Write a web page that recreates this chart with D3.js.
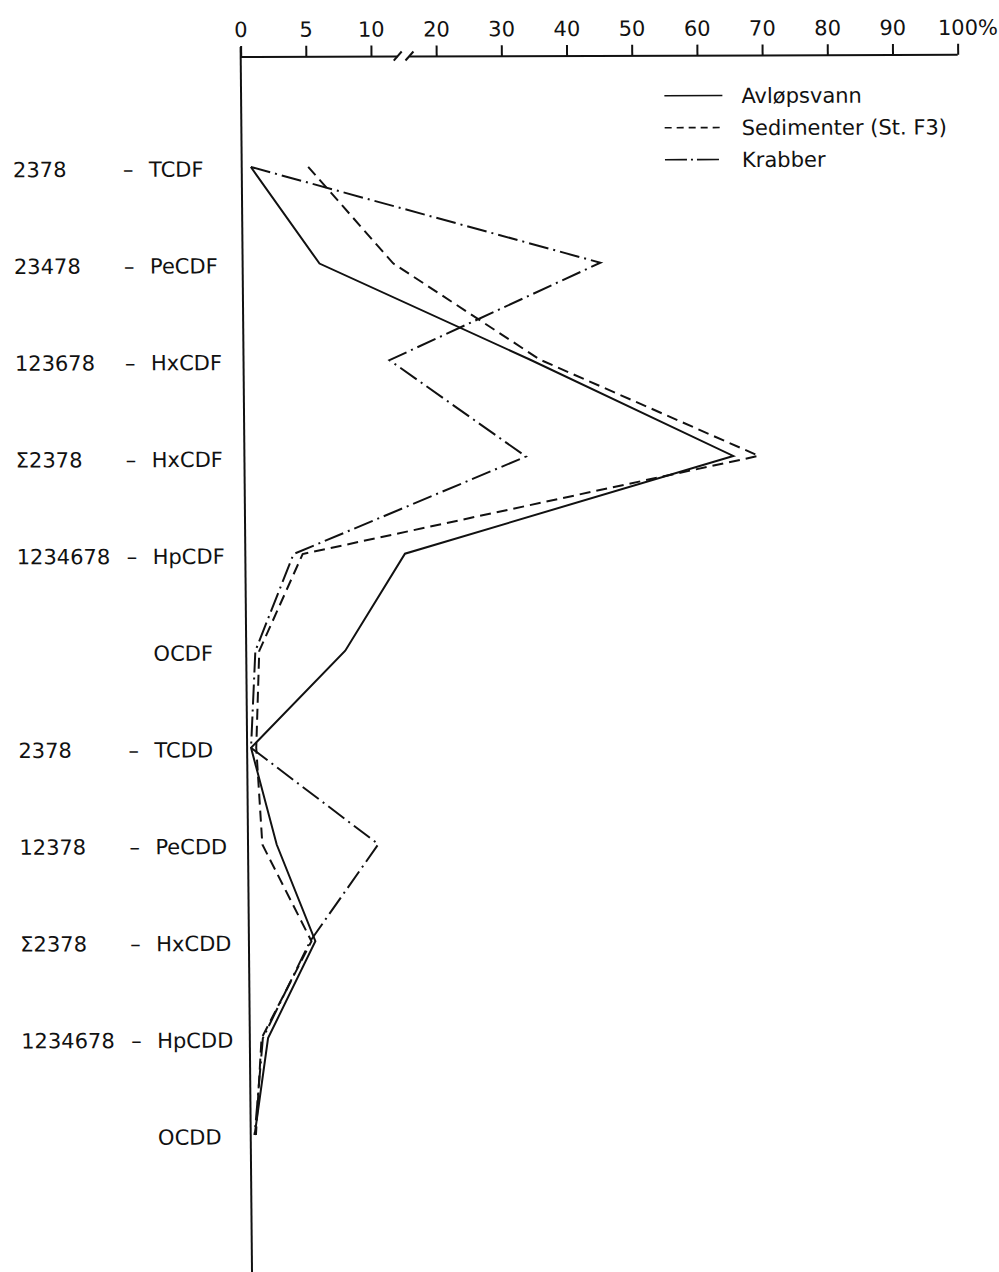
<!DOCTYPE html>
<html>
<head>
<meta charset="utf-8">
<script src="https://cdn.jsdelivr.net/npm/d3@7"></script>
<style>
  html, body { margin: 0; padding: 0; background: #fff; }
  svg { display: block; }
  text { font-family: "DejaVu Sans", "Liberation Sans", sans-serif; fill: #111; }
</style>
</head>
<body>
<div id="chart"></div>
<script>
// ---- data (percent of total) ----
const congenerNumbers = ["2378", "23478", "123678", "\u03A32378", "1234678", "", "2378", "12378", "\u03A32378", "1234678", ""];
const congenerNames   = ["TCDF", "PeCDF", "HxCDF", "HxCDF", "HpCDF", "OCDF", "TCDD", "PeCDD", "HxCDD", "HpCDD", "OCDD"];
const avlopsvann = [0.7, 5.9, 34.0, 65.0, 14.5, 7.6, 0.3, 2.2, 5.1, 1.4, 0.3];
const sedimenter = [5.1, 13.1, 35.5, 68.9, 4.4, 1.0, 0.7, 1.1, 4.8, 0.9, 0.4];
const krabber    = [0.7, 44.9, 12.4, 33.2, 3.7, 0.7, 0.3, 10.0, 4.7, 1.0, 0.3];
const tickValues = [0, 5, 10, 20, 30, 40, 50, 60, 70, 80, 90, 100];
const legendLabels = ["Avløpsvann", "Sedimenter (St. F3)", "Krabber"];

const W = 999, H = 1272;
const svg = d3.select("#chart").append("svg").attr("width", W).attr("height", H);
svg.append("rect").attr("width", W).attr("height", H).attr("fill", "#fff");

// slight scan skew of the original page
const kx = 0.0093, ky = -0.003;
const g = svg.append("g")
  .attr("transform", `matrix(1,${ky},${kx},1,${-kx * 57},${-ky * 240})`);

// broken scale: 0-10 stretched, 10-100 compressed
const x = d3.scaleLinear().domain([0, 10, 100]).range([240.7, 371, 957.7]);
const y = d3.scalePoint().domain(d3.range(congenerNames.length)).range([167, 1135]);
const axisY = 57;

// top axis
const axisG = g.append("g").attr("transform", `translate(0,${axisY})`)
  .call(d3.axisTop(x).tickValues(tickValues).tickSize(11).tickPadding(9)
    .tickFormat(d => String(d)));
axisG.select(".domain").remove();
axisG.selectAll(".tick line").attr("stroke", "#111").attr("stroke-width", 2);
axisG.selectAll(".tick text").attr("font-size", 21).attr("font-family", "DejaVu Sans, sans-serif").attr("fill", "#111");
// % sign after the 100 label
axisG.selectAll(".tick").filter(d => d === 100).each(function () {
  const t = d3.select(this).select("text");
  const w = t.node().getComputedTextLength();
  d3.select(this).append("text")
    .attr("x", w / 2).attr("y", t.attr("y")).attr("dy", t.attr("dy"))
    .attr("font-size", 21).attr("fill", "#111").attr("text-anchor", "start")
    .text("%");
});
// axis baseline with break between 10 and 20
const breakA = 14.1, breakB = 15.9;
g.append("line").attr("x1", x(0)).attr("x2", x(breakA)).attr("y1", axisY).attr("y2", axisY)
  .attr("stroke", "#111").attr("stroke-width", 2);
g.append("line").attr("x1", x(breakB)).attr("x2", x(100)).attr("y1", axisY).attr("y2", axisY)
  .attr("stroke", "#111").attr("stroke-width", 2);
[breakA, breakB].forEach(b => {
  g.append("line").attr("x1", x(b) - 4).attr("x2", x(b) + 4)
    .attr("y1", axisY + 4).attr("y2", axisY - 5)
    .attr("stroke", "#111").attr("stroke-width", 2);
});

// vertical axis at 0
g.append("line").attr("x1", x(0)).attr("x2", x(0)).attr("y1", axisY - 10).attr("y2", H + 20)
  .attr("stroke", "#111").attr("stroke-width", 2);

// row labels
const labels = g.append("g").attr("font-size", 21);
congenerNames.forEach((name, i) => {
  const yy = y(i) + 9.5;
  if (congenerNumbers[i]) {
    labels.append("text").attr("x", 12).attr("y", yy).text(congenerNumbers[i]);
    labels.append("text").attr("x", 122).attr("y", yy).text("\u2013");
  }
  labels.append("text").attr("x", 148).attr("y", yy).text(name);
});

// series
const series = [
  { values: avlopsvann, dash: null },
  { values: sedimenter, dash: "11,6" },
  { values: krabber, dash: "20,5,2,5" }
];
const line = d3.line().x(d => x(d)).y((d, i) => y(i));
series.forEach(s => {
  g.append("path").datum(s.values)
    .attr("d", line)
    .attr("fill", "none").attr("stroke", "#111").attr("stroke-width", 2)
    .attr("stroke-linejoin", "miter")
    .attr("stroke-dasharray", s.dash);
});

// legend
const leg = g.append("g");
const legY = [97, 129, 161];
const legDash = [null, "7,5", "22,4,2,4"];
legendLabels.forEach((lab, i) => {
  leg.append("line").attr("x1", 664).attr("x2", 722).attr("y1", legY[i]).attr("y2", legY[i])
    .attr("stroke", "#111").attr("stroke-width", 1.6).attr("stroke-dasharray", legDash[i]);
  leg.append("text").attr("x", 741).attr("y", legY[i] + 7.5).attr("font-size", 21).text(lab);
});
</script>
</body>
</html>
